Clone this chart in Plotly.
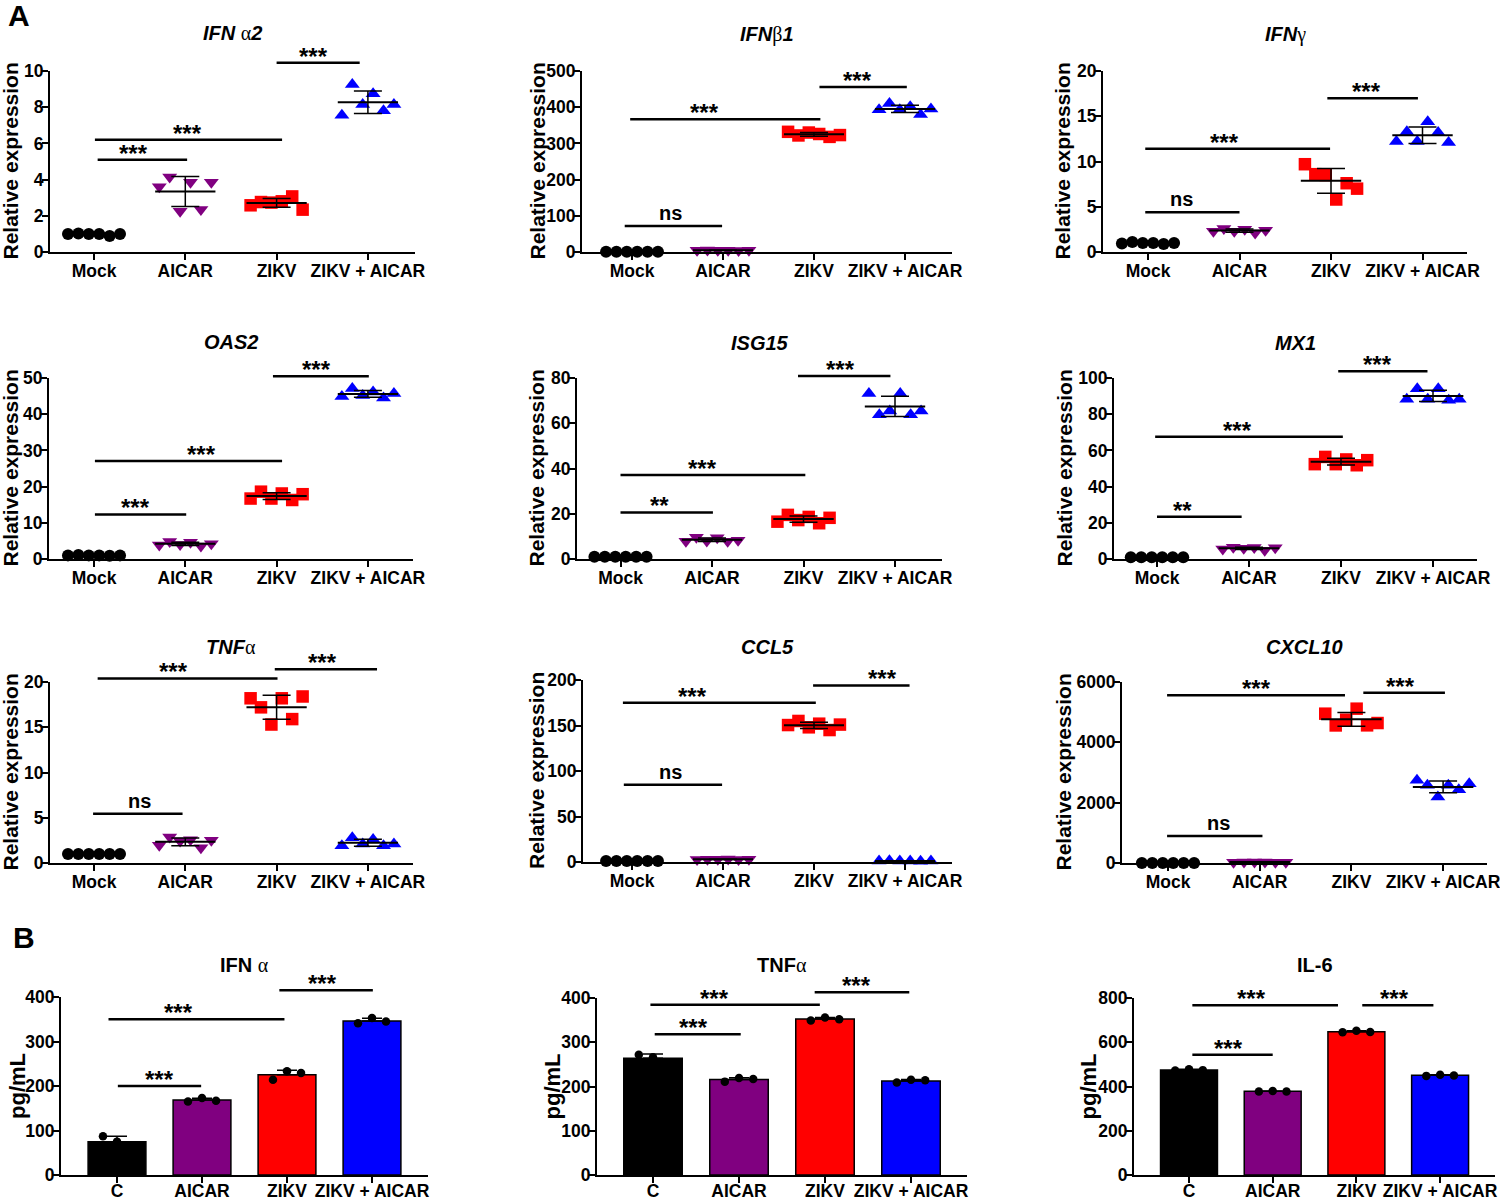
import numpy as np
import plotly.graph_objects as go

W, H = 1500, 1201
FONT = "Liberation Sans, Arial, Helvetica, sans-serif"

# ---------------- data ----------------
groups_A = ["Mock", "AICAR", "ZIKV", "ZIKV + AICAR"]
groups_B = ["C", "AICAR", "ZIKV", "ZIKV + AICAR"]

# Panel A: relative expression, 6 replicates per group (Mock, AICAR, ZIKV, ZIKV + AICAR)
ifna2 = [[1.0, 1.02, 1.0, 1.0, 0.88, 1.0],
         [3.6, 4.15, 2.25, 3.85, 2.35, 3.85],
         [2.58, 2.76, 2.73, 2.8, 3.07, 2.34],
         [7.55, 9.25, 8.15, 8.75, 7.8, 8.15]]
ifnb1 = [[1, 1, 1, 1, 1, 1],
         [4.5, 5.2, 4.6, 5.0, 4.4, 5.1],
         [332, 322, 330, 326, 318, 323],
         [393, 410, 393, 401, 380, 395]]
ifng = [[0.95, 1.1, 1.0, 1.0, 0.88, 1.0],
        [2.3, 2.6, 2.3, 2.5, 2.1, 2.4],
        [9.7, 8.6, 8.5, 5.8, 7.6, 7.0],
        [12.2, 13.3, 12.2, 14.4, 13.2, 12.1]]
oas2 = [[1.0, 1.1, 1.0, 1.0, 0.9, 1.0],
        [3.9, 4.8, 4.0, 4.6, 3.6, 4.2],
        [16.7, 18.6, 16.7, 18.1, 16.3, 17.9],
        [44.9, 47.1, 45.2, 46.1, 44.5, 45.7]]
isg15 = [[1, 1, 1, 1, 1, 1],
         [7.8, 9.6, 8.0, 9.4, 7.9, 8.3],
         [16.5, 19.5, 17.2, 18.6, 15.8, 18.2],
         [73.1, 63.8, 65.4, 73.1, 63.8, 65.4]]
mx1 = [[1, 1, 1, 1, 1, 1],
       [5.5, 6.5, 6.0, 6.3, 4.9, 6.2],
       [52.4, 56.4, 52.4, 55.0, 51.8, 54.6],
       [88.2, 94.1, 88.2, 94.1, 87.7, 88.2]]
tnfa = [[1, 1, 1, 1, 1, 1],
        [1.95, 2.87, 2.43, 2.58, 1.69, 2.5],
        [18.2, 17.2, 15.3, 18.2, 15.9, 18.4],
        [1.9, 2.8, 2.1, 2.6, 1.9, 2.1]]
ccl5 = [[1, 1, 1, 1, 1, 1],
        [2.8, 3.1, 2.9, 3.2, 2.7, 3.0],
        [150.5, 155, 148, 152, 145, 151],
        [1.0, 1.3, 1.1, 1.2, 0.9, 1.1]]
cxcl10 = [[1, 1, 1, 1, 1, 1],
          [28, 32, 30, 31, 27, 29],
          [4950, 4560, 4750, 5116, 4563, 4640],
          [2740, 2575, 2188, 2575, 2431, 2630]]

# Panel B: pg/mL, 3 replicates per group (C, AICAR, ZIKV, ZIKV + AICAR)
ifna_pg = [[87, 75, 63], [165, 173, 167], [214, 233, 229], [341, 353, 345]]
tnfa_pg = [[272, 266, 254], [211, 219, 217], [349, 356, 352], [209, 215, 214]]
il6_pg = [[472, 478, 474], [377, 380, 377], [645, 652, 646], [448, 453, 450]]

# significance brackets: (from group, to group, height, label, label x)
sig_ifna2 = [(0.04, 1.02, 5.1, "***", 0.43), (0.01, 2.06, 6.2, "***", 1.02), (2.0, 2.91, 10.45, "***", 2.4)]
sig_ifnb1 = [(-0.08, 0.99, 72, "ns", 0.42), (-0.02, 2.07, 367, "***", 0.8), (2.06, 3.02, 456, "***", 2.48)]
sig_ifng = [(-0.03, 1.0, 4.4, "ns", 0.37), (-0.03, 1.99, 11.4, "***", 0.84), (1.96, 2.95, 17.0, "***", 2.39)]
sig_oas2 = [(0.01, 1.01, 12.3, "***", 0.45), (0.01, 2.06, 27.1, "***", 1.18), (1.96, 3.01, 50.5, "***", 2.44)]
sig_isg15 = [(0.0, 1.01, 20.6, "**", 0.43), (0.0, 2.02, 37.1, "***", 0.9), (1.94, 2.95, 80.9, "***", 2.4)]
sig_mx1 = [(0.0, 0.92, 23.3, "**", 0.28), (-0.02, 2.02, 67.5, "***", 0.87), (1.97, 2.94, 103.7, "***", 2.4)]
sig_tnfa = [(-0.01, 0.97, 5.45, "ns", 0.5), (0.04, 2.01, 20.4, "***", 0.87), (1.98, 3.1, 21.4, "***", 2.5)]
sig_ccl5 = [(-0.09, 0.99, 85, "ns", 0.42), (-0.1, 2.02, 175, "***", 0.66), (1.99, 3.05, 194, "***", 2.75)]
sig_cxcl10 = [(-0.01, 1.03, 895, "ns", 0.55), (-0.01, 1.93, 5560, "***", 0.97), (2.13, 3.02, 5640, "***", 2.53)]
sig_ifna_pg = [(0.01, 0.99, 200, "***", 0.5), (-0.1, 1.97, 350, "***", 0.72), (1.91, 3.01, 415, "***", 2.42)]
sig_tnfa_pg = [(0.02, 1.02, 318, "***", 0.47), (-0.03, 1.94, 385, "***", 0.72), (1.88, 2.98, 413, "***", 2.37)]
sig_il6_pg = [(0.04, 1.0, 543, "***", 0.47), (0.04, 1.78, 767, "***", 0.75), (2.07, 2.92, 767, "***", 2.46)]

# ---------------- layout specs (pixel geometry) ----------------
SERIF = "Liberation Serif, DejaVu Serif, serif"
def greek(c):
    return f"<span style='font-family:{SERIF}'>{c}</span>"

specs = [
    dict(kind="dot", data=ifna2, sig=sig_ifna2, title="<b><i>IFN</i></b> " + greek("α") + "<b><i>2</i></b>",
         px=(50, 415, 71, 252), cat0=94, step=91.3, ymax=10, dtick=2, ty=33, ytx=10),
    dict(kind="dot", data=ifnb1, sig=sig_ifnb1, title="<b><i>IFN</i></b>" + greek("β") + "<b><i>1</i></b>",
         px=(582, 952, 71, 252), cat0=632, step=91, ymax=500, dtick=100, ty=35, ytx=537),
    dict(kind="dot", data=ifng, sig=sig_ifng, title="<b><i>IFN</i></b>" + greek("γ"),
         px=(1103, 1467, 71, 252), cat0=1148, step=91.5, ymax=20, dtick=5, ty=35, ytx=1062),
    dict(kind="dot", data=oas2, sig=sig_oas2, title="<b><i>OAS2</i></b>",
         px=(49, 413, 378, 559), cat0=94, step=91.3, ymax=50, dtick=10, ty=342, ytx=10),
    dict(kind="dot", data=isg15, sig=sig_isg15, title="<b><i>ISG15</i></b>",
         px=(577, 942, 378, 559), cat0=620.5, step=91.5, ymax=80, dtick=20, ty=343, ytx=536),
    dict(kind="dot", data=mx1, sig=sig_mx1, title="<b><i>MX1</i></b>",
         px=(1114, 1477, 378, 559), cat0=1157, step=92, ymax=100, dtick=20, ty=343, ytx=1064),
    dict(kind="dot", data=tnfa, sig=sig_tnfa, title="<b><i>TNF</i></b>" + greek("α"),
         px=(50, 413, 682, 863), cat0=94, step=91.3, ymax=20, dtick=5, ty=647, ytx=10),
    dict(kind="dot", data=ccl5, sig=sig_ccl5, title="<b><i>CCL5</i></b>",
         px=(583, 952, 680, 862), cat0=632, step=91, ymax=200, dtick=50, ty=647, ytx=537),
    dict(kind="dot", data=cxcl10, sig=sig_cxcl10, title="<b><i>CXCL10</i></b>",
         px=(1122, 1487, 682, 863), cat0=1168, step=91.7, ymax=6000, dtick=2000, ty=647, ytx=1063),
    dict(kind="bar", data=ifna_pg, sig=sig_ifna_pg, title="<b>IFN </b>" + greek("α"),
         px=(61, 428, 997, 1175), cat0=117, step=85, ymax=400, dtick=100, ty=965, ytx=17),
    dict(kind="bar", data=tnfa_pg, sig=sig_tnfa_pg, title="<b>TNF</b>" + greek("α"),
         px=(597, 967, 998, 1175), cat0=653, step=86, ymax=400, dtick=100, ty=965, ytx=552),
    dict(kind="bar", data=il6_pg, sig=sig_il6_pg, title="<b>IL-6</b>",
         px=(1134, 1495, 998, 1175), cat0=1189, step=83.7, ymax=800, dtick=200, ty=965, ytx=1088),
]

offs6 = [-0.285, -0.171, -0.057, 0.057, 0.171, 0.285]
offs3 = [-0.165, 0.0, 0.165]
symbols = ["circle", "triangle-down", "square", "triangle-up"]
msizes = [12, 13, 12.5, 13]
colors = ["#000000", "#800080", "#FF0000", "#0000FF"]

fig = go.Figure()
annotations = []
shapes = []

for k, sp in enumerate(specs, start=1):
    xa = "x" if k == 1 else f"x{k}"
    ya = "y" if k == 1 else f"y{k}"
    x0p, x1p, ytop, ybot = sp["px"]
    r0 = (x0p - sp["cat0"]) / sp["step"]
    r1 = (x1p - sp["cat0"]) / sp["step"]
    ymax = sp["ymax"]

    if sp["kind"] == "dot":
        for i, vals in enumerate(sp["data"]):
            fig.add_trace(go.Scatter(
                x=[i + o for o in offs6[:len(vals)]], y=vals, mode="markers",
                marker=dict(symbol=symbols[i], size=msizes[i], color=colors[i], line=dict(width=0)),
                cliponaxis=False, xaxis=xa, yaxis=ya, showlegend=False, hoverinfo="skip"))
        for i, vals in enumerate(sp["data"]):
            m = float(np.mean(vals))
            s = float(np.std(vals, ddof=1))
            fig.add_trace(go.Scatter(
                x=[i - 0.33, i + 0.33], y=[m, m], mode="lines",
                line=dict(color="black", width=2), cliponaxis=False,
                xaxis=xa, yaxis=ya, showlegend=False, hoverinfo="skip"))
            fig.add_trace(go.Scatter(
                x=[i], y=[m], mode="markers",
                marker=dict(size=1, color="rgba(0,0,0,0)"),
                error_y=dict(type="data", array=[s], width=14, thickness=1.5, color="black"),
                cliponaxis=False, xaxis=xa, yaxis=ya, showlegend=False, hoverinfo="skip"))
        xt = groups_A
        ytitle = "Relative expression"
        xstand = -4
    else:
        means = [float(np.mean(v)) for v in sp["data"]]
        sds = [float(np.std(v, ddof=1)) for v in sp["data"]]
        fig.add_trace(go.Bar(
            x=list(range(len(means))), y=means, width=0.68,
            marker=dict(color=colors, line=dict(color="black", width=1.5)),
            error_y=dict(type="data", symmetric=False, array=sds, arrayminus=[0] * len(sds),
                         width=10, thickness=1.5, color="black"),
            xaxis=xa, yaxis=ya, showlegend=False, hoverinfo="skip"))
        for i, vals in enumerate(sp["data"]):
            fig.add_trace(go.Scatter(
                x=[i + o for o in offs3[:len(vals)]], y=vals, mode="markers",
                marker=dict(symbol="circle", size=8.5, color="black", line=dict(width=0)),
                cliponaxis=False, xaxis=xa, yaxis=ya, showlegend=False, hoverinfo="skip"))
        xt = groups_B
        ytitle = "pg/mL"
        xstand = -7

    axfont = dict(family=FONT, size=17.5, color="black", weight="bold")
    fig.layout["xaxis" if k == 1 else f"xaxis{k}"] = dict(
        domain=[x0p / W, x1p / W], range=[r0, r1], anchor=ya, automargin=False,
        tickmode="array", tickvals=list(range(4)), ticktext=xt,
        showline=True, linewidth=2, linecolor="black",
        ticks="outside", ticklen=6, tickwidth=2, tickcolor="black",
        ticklabelstandoff=xstand, ticklabeloverflow="allow",
        tickfont=axfont, showgrid=False, zeroline=False, fixedrange=True)
    fig.layout["yaxis" if k == 1 else f"yaxis{k}"] = dict(
        domain=[1 - ybot / H, 1 - ytop / H], range=[0, ymax], anchor=xa, automargin=False,
        tick0=0, dtick=sp["dtick"],
        showline=True, linewidth=2, linecolor="black",
        ticks="outside", ticklen=6, tickwidth=2, tickcolor="black",
        ticklabelstandoff=-5, ticklabeloverflow="allow",
        tickfont=axfont, showgrid=False, zeroline=False, fixedrange=True)

    # y-axis title (placed as rotated text beside the axis)
    annotations.append(dict(
        text=f"<b>{ytitle}</b>", xref="paper", yref="paper",
        x=sp["ytx"] / W, y=1 - (ytop + ybot) / 2 / H, xanchor="center", yanchor="middle",
        textangle=-90, showarrow=False,
        font=dict(family=FONT, size=21 if sp["kind"] == "dot" else 22, color="black")))

    # panel title
    annotations.append(dict(
        text=sp["title"], xref="paper", yref="paper",
        x=(x0p + x1p) / 2 / W, y=1 - sp["ty"] / H, xanchor="center", yanchor="middle",
        showarrow=False, font=dict(family=FONT, size=20, color="black")))

    # significance brackets (positioned in axis-domain fractions so they may sit above the range)
    for (a, b, lev, lab, tx) in sp["sig"]:
        shapes.append(dict(
            type="line", xref=f"{xa} domain", yref=f"{ya} domain",
            x0=(a - r0) / (r1 - r0), x1=(b - r0) / (r1 - r0),
            y0=lev / ymax, y1=lev / ymax, line=dict(color="black", width=2.5)))
        star = "*" in lab
        annotations.append(dict(
            text=f"<b>{lab}</b>", xref=f"{xa} domain", yref=f"{ya} domain",
            x=(tx - r0) / (r1 - r0), y=lev / ymax,
            xanchor="center", yanchor="bottom", showarrow=False,
            yshift=-9 if star else 0,
            font=dict(family=FONT, size=24 if star else 20, color="black")))

# panel letters
annotations.append(dict(text="<b>A</b>", xref="paper", yref="paper", x=6 / W, y=1 + 3 / H,
                        xanchor="left", yanchor="top", showarrow=False,
                        font=dict(family=FONT, size=30, color="black")))
annotations.append(dict(text="<b>B</b>", xref="paper", yref="paper", x=11 / W, y=1 - 919 / H,
                        xanchor="left", yanchor="top", showarrow=False,
                        font=dict(family=FONT, size=30, color="black")))

fig.update_layout(
    width=W, height=H, margin=dict(l=0, r=0, t=0, b=0, autoexpand=False),
    paper_bgcolor="white", plot_bgcolor="white",
    font=dict(family=FONT, color="black"),
    annotations=annotations, shapes=shapes, showlegend=False)

fig.write_html("out.html", config={"displayModeBar": False},
               post_script="document.body.style.margin='0px';")
